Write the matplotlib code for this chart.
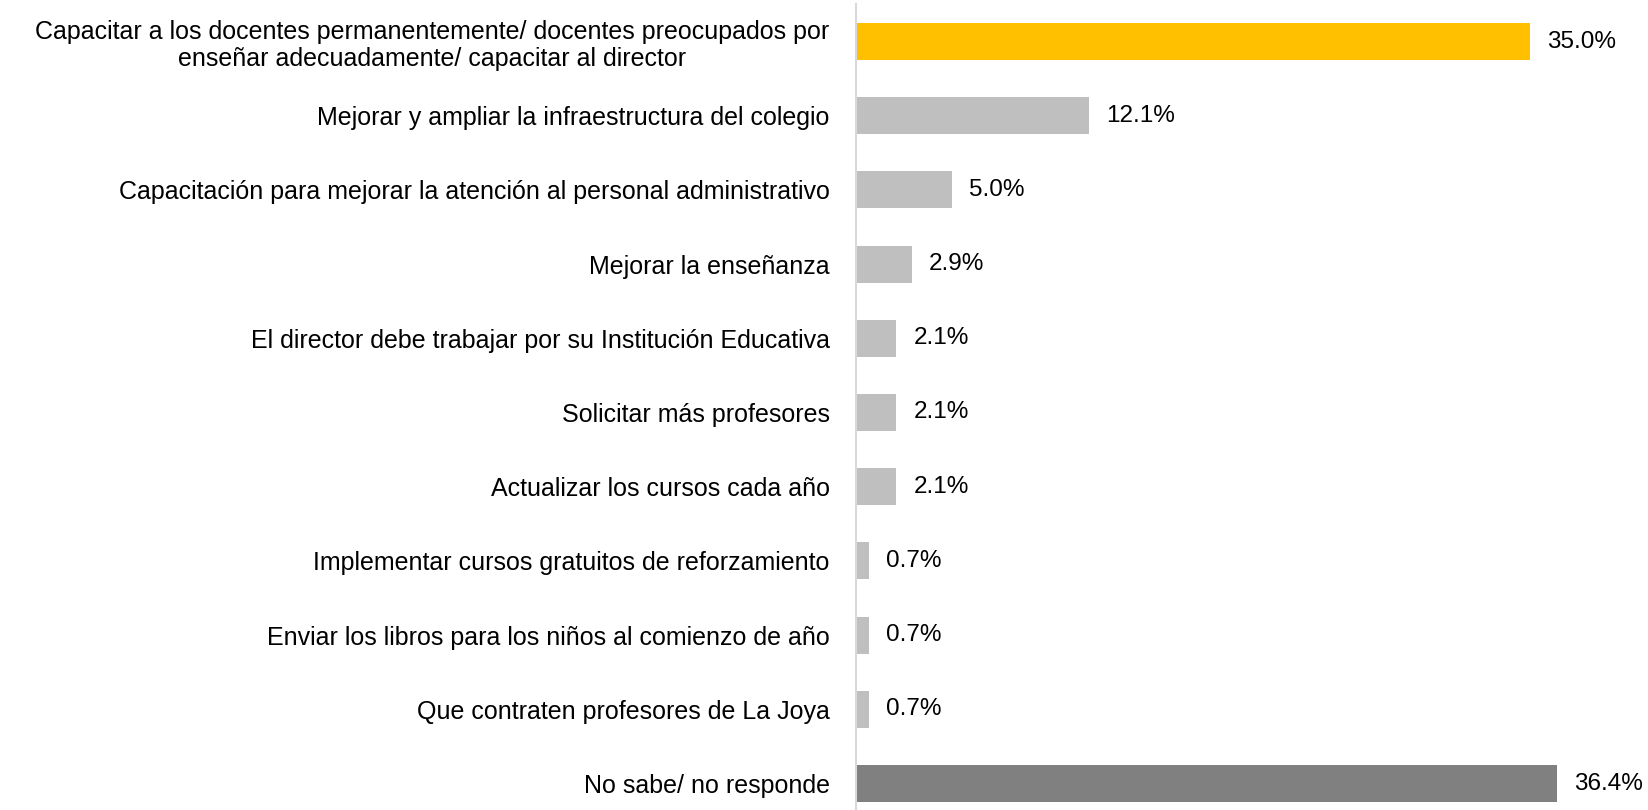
import matplotlib
matplotlib.use("Agg")
import matplotlib.pyplot as plt
import matplotlib.transforms as mtransforms

plt.rcParams['font.family'] = ['Liberation Sans', 'DejaVu Sans']

categories = [
    "Capacitar a los docentes permanentemente/ docentes preocupados por\nenseñar adecuadamente/ capacitar al director",
    "Mejorar y ampliar la infraestructura del colegio",
    "Capacitación para mejorar la atención al personal administrativo",
    "Mejorar la enseñanza",
    "El director debe trabajar por su Institución Educativa",
    "Solicitar más profesores",
    "Actualizar los cursos cada año",
    "Implementar cursos gratuitos de reforzamiento",
    "Enviar los libros para los niños al comienzo de año",
    "Que contraten profesores de La Joya",
    "No sabe/ no responde",
]
values = [35.0, 12.1, 5.0, 2.9, 2.1, 2.1, 2.1, 0.7, 0.7, 0.7, 36.4]
bar_colors = ["#FFC000"] + ["#BFBFBF"] * 9 + ["#808080"]

W, H = 1649, 810
fig = plt.figure(figsize=(W / 100, H / 100), dpi=100)
# axes placed so rows match the reference (rows ~74 px apart, axis at x=856)
ax = fig.add_axes([856 / W, 1 - 820.6 / H, 1 - 856 / W, (820.6 - 4.4) / H])

y = list(range(len(categories)))
ax.barh(y, values, height=0.5, color=bar_colors)
ax.set_ylim(len(categories) - 0.5, -0.5)
ax.set_xlim(0, (W - 856) / 19.26)

ax.set_yticks(y)
ax.set_yticklabels(categories, fontsize=18, multialignment='center',
                   linespacing=1.15)
ax.tick_params(axis='y', length=0, pad=19)
ax.set_xticks([])

for s in ['top', 'right', 'bottom']:
    ax.spines[s].set_visible(False)
ax.spines['left'].set_color('#D9D9D9')
ax.spines['left'].set_linewidth(1.5)

offset = mtransforms.offset_copy(ax.transData, fig=fig, x=17, y=0, units='dots')
for i, v in enumerate(values):
    ax.text(v, i, f"{v:.1f}%", va='center', ha='left', fontsize=17.5,
            transform=offset)

fig.savefig("out.png", dpi=100)
